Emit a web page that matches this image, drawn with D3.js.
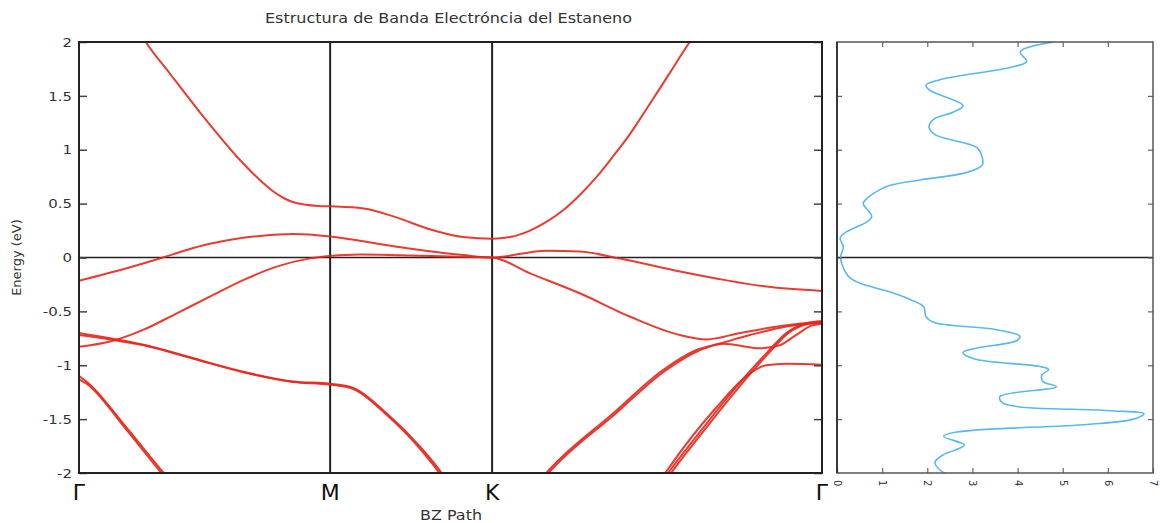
<!DOCTYPE html>
<html>
<head>
<meta charset="utf-8">
<script src="https://cdn.jsdelivr.net/npm/d3@7"></script>
<style>
  body { margin: 0; background: #fff; }
  svg { font-family: "DejaVu Sans", sans-serif; }
</style>
</head>
<body>
<div id="chart"></div>
<script>
// path coordinate: Γ = 0, M, K, Γ = 1
let kTicks = [0, 0.338, 0.556, 1.0];
let kLabels = ["Γ", "M", "K", "Γ"];
let energyTicks = [2, 1.5, 1, 0.5, 0, -0.5, -1, -1.5, -2];
let energyLabels = ["2", "1.5", "1", "0.5", "0", "-0.5", "-1", "-1.5", "-2"];
let dosTicks = [0, 1, 2, 3, 4, 5, 6, 7];

// bands, [k, E]
let bandA = [[0.083,2.08],[0.090,2.0],[0.122,1.71],[0.167,1.31],[0.212,0.94],[0.248,0.69],[0.262,0.61],[0.276,0.55],[0.290,0.51],[0.305,0.49],[0.322,0.479],[0.338,0.475],[0.383,0.455],[0.428,0.37],[0.473,0.26],[0.517,0.19],[0.556,0.175],[0.58,0.19],[0.607,0.25],[0.629,0.33],[0.652,0.44],[0.674,0.58],[0.697,0.75],[0.719,0.94],[0.742,1.15],[0.764,1.38],[0.793,1.69],[0.822,2.0],[0.83,2.08]];
let bandB = [[0,-0.215],[0.064,-0.10],[0.113,0.0],[0.145,0.07],[0.176,0.127],[0.21,0.172],[0.244,0.20],[0.288,0.218],[0.338,0.195],[0.378,0.156],[0.428,0.10],[0.517,0.023],[0.556,0.0],[0.629,0.063],[0.674,0.055],[0.728,-0.01],[0.809,-0.13],[0.87,-0.21],[0.925,-0.27],[1.0,-0.31]];
let bandC = [[0,-0.828],[0.042,-0.78],[0.087,-0.67],[0.131,-0.52],[0.176,-0.364],[0.221,-0.21],[0.266,-0.085],[0.311,-0.008],[0.338,0.014],[0.378,0.028],[0.43,0.022],[0.50,0.01],[0.556,0.0],[0.607,-0.147],[0.674,-0.332],[0.742,-0.55],[0.809,-0.72],[0.845,-0.76],[0.89,-0.70],[0.952,-0.628],[1.0,-0.596]];
let bandD1 = [[0,-0.70],[0.042,-0.75],[0.087,-0.81],[0.154,-0.935],[0.221,-1.06],[0.288,-1.15],[0.338,-1.172],[0.369,-1.21],[0.414,-1.446],[0.459,-1.756],[0.488,-2.0],[0.492,-2.04]];
let bandD2 = [[0,-0.72],[0.042,-0.76],[0.087,-0.815],[0.154,-0.94],[0.221,-1.065],[0.288,-1.155],[0.338,-1.18],[0.369,-1.22],[0.414,-1.46],[0.459,-1.775],[0.485,-2.0],[0.489,-2.04]];
let bandE1 = [[0,-1.10],[0.01,-1.15],[0.064,-1.58],[0.114,-2.0],[0.119,-2.04]];
let bandE2 = [[0,-1.13],[0.01,-1.17],[0.064,-1.60],[0.111,-2.0],[0.116,-2.04]];
let bandF1 = [[0.624,-2.04],[0.629,-2.0],[0.719,-1.446],[0.786,-1.044],[0.831,-0.858],[0.863,-0.797],[0.903,-0.72],[0.952,-0.64],[1.0,-0.605]];
let bandF2 = [[0.627,-2.04],[0.632,-2.0],[0.722,-1.45],[0.789,-1.05],[0.834,-0.865],[0.867,-0.80],[0.917,-0.843],[0.943,-0.815],[0.965,-0.72],[0.985,-0.635],[1.0,-0.615]];
let bandG1 = [[0.789,-2.04],[0.793,-2.0],[0.831,-1.66],[0.881,-1.23],[0.925,-0.89],[0.952,-0.70],[0.979,-0.61],[1.0,-0.59]];
let bandG2 = [[0.793,-2.04],[0.797,-2.0],[0.835,-1.66],[0.885,-1.23],[0.928,-0.89],[0.955,-0.70],[0.981,-0.615],[1.0,-0.60]];
let bandH = [[0.785,-2.04],[0.789,-2.0],[0.858,-1.39],[0.903,-1.075],[0.925,-1.0],[0.952,-0.985],[1.0,-0.995]];
let bands = [bandA, bandB, bandC, bandD1, bandD2, bandE1, bandE2, bandF1, bandF2, bandG1, bandG2, bandH];

// density of states
let dosEnergy = [2.0,1.91,1.82,1.77,1.65,1.60,1.55,1.41,1.35,1.28,1.21,1.14,1.02,0.94,0.86,0.79,0.72,0.67,0.63,0.53,0.50,0.38,0.33,0.23,0.18,0.10,0.0,-0.13,-0.19,-0.24,-0.32,-0.39,-0.46,-0.55,-0.60,-0.67,-0.73,-0.77,-0.84,-0.88,-0.94,-1.01,-1.04,-1.09,-1.15,-1.20,-1.29,-1.35,-1.42,-1.45,-1.50,-1.55,-1.62,-1.66,-1.74,-1.79,-1.83,-1.90,-1.96,-2.02];
let dosValue = [4.79,4.06,4.2,3.9,2.28,1.97,2.06,2.79,2.58,2.13,2.04,2.17,3.1,3.21,3.22,2.88,1.84,1.18,0.95,0.62,0.58,0.77,0.66,0.18,0.07,0.14,0.08,0.18,0.29,0.51,1.18,1.62,1.92,1.97,2.13,3.54,4.05,3.99,3.10,2.79,3.03,4.47,4.69,4.54,4.56,4.86,3.61,3.67,5.98,6.80,6.57,5.54,2.65,2.36,2.82,2.60,2.36,2.17,2.25,2.47];

let svg = d3.select("#chart").append("svg")
    .attr("width", 1160)
    .attr("height", 523);

let x = d3.scaleLinear().domain([0, 1]).range([79, 822]);
let y = d3.scaleLinear().domain([-2, 2]).range([473, 42]);
let xd = d3.scaleLinear().domain([0, 7]).range([837, 1153]);

// the source picture is a little stretched sideways
let stretch = 1.15;

let defs = svg.append("defs");
defs.append("clipPath").attr("id", "clipL").append("rect")
    .attr("x", 79).attr("y", 42).attr("width", 743).attr("height", 431);
defs.append("clipPath").attr("id", "clipR").append("rect")
    .attr("x", 837).attr("y", 42).attr("width", 316).attr("height", 431);

// title
svg.append("text")
    .attr("x", 265).attr("y", 23)
    .attr("font-size", 14)
    .attr("fill", "#333")
    .attr("textLength", 367)
    .attr("lengthAdjust", "spacingAndGlyphs")
    .text("Estructura de Banda Electróncia del Estaneno");

// ---- band structure panel ----
let left = svg.append("g");

left.append("line")
    .attr("x1", x(0)).attr("x2", x(1))
    .attr("y1", y(0)).attr("y2", y(0))
    .attr("stroke", "#222").attr("stroke-width", 1.5);

kTicks.slice(1, 3).forEach(k =>
    left.append("line")
    .attr("x1", x(k)).attr("x2", x(k))
    .attr("y1", y(2)).attr("y2", y(-2))
    .attr("stroke", "#222").attr("stroke-width", 2)
);

let bandLine = d3.line()
    .x(d => x(d[0]))
    .y(d => y(d[1]))
    .curve(d3.curveMonotoneX);

left.append("g").attr("clip-path", "url(#clipL)")
    .selectAll("path").data(bands).join("path")
    .attr("d", bandLine)
    .attr("fill", "none")
    .attr("stroke", "#e8261b")
    .attr("stroke-width", 2)
    .attr("stroke-opacity", 0.9);

// y axis (ticks inward)
let yAxis = left.append("g")
    .attr("transform", `translate(${x(0)},0)`)
    .call(d3.axisLeft(y).tickValues(energyTicks)
        .tickFormat((d, i) => energyLabels[i])
        .tickSize(-8).tickPadding(7));
yAxis.select(".domain").remove();
yAxis.selectAll("line").attr("stroke", "#444").attr("stroke-width", 1.5);
yAxis.selectAll("text").attr("font-size", 13).attr("fill", "#333")
    .attr("font-family", "DejaVu Sans")
    .attr("x", -7 / stretch)
    .attr("transform", `scale(${stretch},1)`);

let yAxisR = left.append("g")
    .attr("transform", `translate(${x(1)},0)`)
    .call(d3.axisRight(y).tickValues(energyTicks).tickFormat("").tickSize(-8));
yAxisR.select(".domain").remove();
yAxisR.selectAll("line").attr("stroke", "#444").attr("stroke-width", 1.5);

left.append("rect")
    .attr("x", x(0)).attr("y", y(2))
    .attr("width", x(1) - x(0)).attr("height", y(-2) - y(2))
    .attr("fill", "none").attr("stroke", "#222").attr("stroke-width", 2);

left.selectAll(".klab").data(kTicks).join("text")
    .attr("x", d => x(d)).attr("y", 500)
    .attr("text-anchor", "middle")
    .attr("font-size", 22)
    .attr("fill", "#111")
    .text((d, i) => kLabels[i]);

svg.append("text")
    .attr("x", 420).attr("y", 520)
    .attr("font-size", 14).attr("fill", "#333")
    .attr("textLength", 62)
    .attr("lengthAdjust", "spacingAndGlyphs")
    .text("BZ Path");

svg.append("text")
    .attr("transform", `translate(21,${y(0)}) rotate(-90)`)
    .attr("text-anchor", "middle")
    .attr("font-size", 13).attr("fill", "#333")
    .text("Energy (eV)");

// ---- DOS panel ----
let right = svg.append("g");

right.append("line")
    .attr("x1", xd(0)).attr("x2", xd(7))
    .attr("y1", y(0)).attr("y2", y(0))
    .attr("stroke", "#222").attr("stroke-width", 1.5);

let dosLine = d3.line()
    .x((d, i) => xd(dosValue[i]))
    .y(d => y(d))
    .curve(d3.curveCatmullRom.alpha(0.5));

right.append("path")
    .datum(dosEnergy)
    .attr("clip-path", "url(#clipR)")
    .attr("d", dosLine)
    .attr("fill", "none")
    .attr("stroke", "#5bb8ea")
    .attr("stroke-width", 1.6);

let tickStyle = g => {
    g.select(".domain").remove();
    g.selectAll("line").attr("stroke", "#666").attr("stroke-width", 1.2);
};
let innerE = energyTicks.slice(1, -1);
right.append("g").attr("transform", `translate(${xd(0)},0)`)
    .call(d3.axisLeft(y).tickValues(innerE).tickFormat("").tickSize(-5)).call(tickStyle);
right.append("g").attr("transform", `translate(${xd(7)},0)`)
    .call(d3.axisRight(y).tickValues(innerE).tickFormat("").tickSize(-5)).call(tickStyle);
right.append("g").attr("transform", `translate(0,${y(2)})`)
    .call(d3.axisTop(xd).tickValues(dosTicks.slice(1, -1)).tickFormat("").tickSize(-5)).call(tickStyle);
let xdAxis = right.append("g").attr("transform", `translate(0,${y(-2)})`)
    .call(d3.axisBottom(xd).tickValues(dosTicks).tickFormat(d3.format("d")).tickSize(-5).tickPadding(0));
xdAxis.call(tickStyle);
xdAxis.selectAll("text")
    .attr("transform", "translate(0,7) rotate(90)")
    .attr("x", 0).attr("y", 0).attr("dy", "0.35em")
    .attr("text-anchor", "start")
    .attr("font-size", 10).attr("fill", "#333")
    .attr("font-family", "DejaVu Sans");

right.append("rect")
    .attr("x", xd(0)).attr("y", y(2))
    .attr("width", xd(7) - xd(0)).attr("height", y(-2) - y(2))
    .attr("fill", "none").attr("stroke", "#555").attr("stroke-width", 1.5);
right.append("line")
    .attr("x1", xd(0)).attr("x2", xd(0)).attr("y1", y(2)).attr("y2", y(-2))
    .attr("stroke", "#222").attr("stroke-width", 1.5);
</script>
</body>
</html>
